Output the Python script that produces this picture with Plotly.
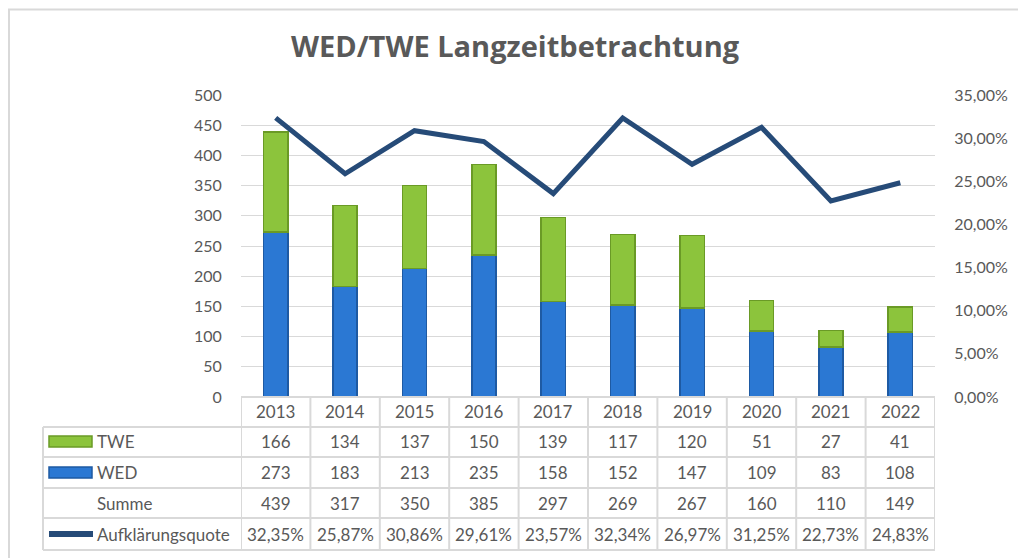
import plotly.graph_objects as go

# ---------------- data ----------------
years = ["2013", "2014", "2015", "2016", "2017", "2018", "2019", "2020", "2021", "2022"]
twe = [166, 134, 137, 150, 139, 117, 120, 51, 27, 41]
wed = [273, 183, 213, 235, 158, 152, 147, 109, 83, 108]
summe = [439, 317, 350, 385, 297, 269, 267, 160, 110, 149]
quote = [32.35, 25.87, 30.86, 29.61, 23.57, 32.34, 26.97, 31.25, 22.73, 24.83]
left_ticks = [0, 50, 100, 150, 200, 250, 300, 350, 400, 450, 500]
right_ticks = [0, 5, 10, 15, 20, 25, 30, 35]
row_labels = ["TWE", "WED", "Summe", "Aufklärungsquote"]

# ---------------- styling ----------------
OFF = 8                      # page body margin
W, H = 1026 - 2 * OFF, 558 - OFF
FONT = "Lato"
TXT = "#595959"
GRID = "#d9d9d9"
BLUE = "#2b78d3"
BLUE_EDGE = "#1e5aa3"
GREEN = "#8cc43c"
GREEN_EDGE = "#6a9a26"
NAVY = "#264b78"


def px_x(px):
    return (px - OFF) / W


def px_y(py):
    return 1 - (py - OFF) / H


plot_l, plot_r, plot_t, plot_b = 241, 935, 95, 397


def de(v):
    return f"{v:.2f}".replace(".", ",") + "%"


fig = go.Figure()
fig.add_trace(go.Bar(x=years, y=wed, name="WED", width=0.35,
                     marker=dict(color=BLUE, line=dict(color=BLUE_EDGE, width=1.5))))
fig.add_trace(go.Bar(x=years, y=twe, name="TWE", width=0.35,
                     marker=dict(color=GREEN, line=dict(color=GREEN_EDGE, width=1.5))))
fig.add_trace(go.Scatter(x=years, y=quote, name="Aufklärungsquote", yaxis="y2",
                         mode="lines", line=dict(color=NAVY, width=5)))

fig.update_layout(
    width=W, height=H, autosize=False,
    margin=dict(l=0, r=0, t=0, b=0, pad=0, autoexpand=False),
    paper_bgcolor="white", plot_bgcolor="white",
    barmode="stack", showlegend=False,
    font=dict(family=FONT, color=TXT, size=16),
    title=dict(text="<b>WED/TWE Langzeitbetrachtung</b>", x=px_x(515), xanchor="center",
               y=px_y(47), yanchor="middle",
               font=dict(family="Open Sans", size=29, color=TXT)),
    xaxis=dict(domain=[px_x(plot_l), px_x(plot_r)], type="category",
               range=[-0.5, 9.5], showticklabels=False, showgrid=False,
               zeroline=False, showline=False, fixedrange=True, automargin=False),
    yaxis=dict(domain=[px_y(plot_b), px_y(plot_t)], range=[0, 500],
               tickvals=left_ticks, ticktext=[str(v) for v in left_ticks],
               showgrid=True, gridcolor=GRID, gridwidth=1, zeroline=False,
               showline=False, ticks="outside", ticklen=15,
               tickcolor="rgba(0,0,0,0)", automargin=False,
               tickfont=dict(size=16, color=TXT)),
    yaxis2=dict(overlaying="y", side="right", range=[0, 35],
                tickvals=right_ticks, ticktext=[de(v) for v in right_ticks],
                showgrid=False, zeroline=False, showline=False, ticks="outside",
                ticklen=15, tickcolor="rgba(0,0,0,0)", automargin=False,
                tickfont=dict(size=16, color=TXT)),
)

shapes = []
# outer chart border
shapes.append(dict(type="rect", xref="paper", yref="paper",
                   x0=px_x(9), x1=px_x(1023), y0=px_y(575), y1=px_y(9.5),
                   line=dict(color=GRID, width=2), layer="below"))

# data table grid
row_lines = [427, 457, 488, 518, 550]
tab_left = 43
shapes.append(dict(type="line", xref="paper", yref="paper",
                   x0=px_x(plot_l), x1=px_x(plot_r), y0=px_y(plot_b), y1=px_y(plot_b),
                   line=dict(color=GRID, width=2)))
for ry in row_lines:
    shapes.append(dict(type="line", xref="paper", yref="paper",
                       x0=px_x(tab_left), x1=px_x(plot_r), y0=px_y(ry), y1=px_y(ry),
                       line=dict(color=GRID, width=2)))
for i in range(len(years) + 1):
    shapes.append(dict(type="line", xref="x", yref="paper",
                       x0=i - 0.5, x1=i - 0.5, y0=px_y(plot_b), y1=px_y(550),
                       line=dict(color=GRID, width=2)))
shapes.append(dict(type="line", xref="paper", yref="paper",
                   x0=px_x(tab_left), x1=px_x(tab_left), y0=px_y(427), y1=px_y(550),
                   line=dict(color=GRID, width=2)))

# legend keys in table
shapes.append(dict(type="rect", xref="paper", yref="paper",
                   x0=px_x(49), x1=px_x(92), y0=px_y(447), y1=px_y(436),
                   fillcolor=GREEN, line=dict(color=GREEN_EDGE, width=1.5)))
shapes.append(dict(type="rect", xref="paper", yref="paper",
                   x0=px_x(49), x1=px_x(92), y0=px_y(478), y1=px_y(467),
                   fillcolor=BLUE, line=dict(color=BLUE_EDGE, width=1.5)))
shapes.append(dict(type="line", xref="paper", yref="paper",
                   x0=px_x(49), x1=px_x(93), y0=px_y(534), y1=px_y(534),
                   line=dict(color=NAVY, width=6)))
fig.update_layout(shapes=shapes)

annotations = []
header_y = 411
row_centers = [441, 472, 503, 534]
row_values = [
    [str(v) for v in twe],
    [str(v) for v in wed],
    [str(v) for v in summe],
    [de(v) for v in quote],
]
for i, yr in enumerate(years):
    annotations.append(dict(x=i, xref="x", y=px_y(header_y), yref="paper",
                            text=yr, showarrow=False, xanchor="center", yanchor="middle",
                            font=dict(size=17, color=TXT, family=FONT)))
    for r, vals in enumerate(row_values):
        annotations.append(dict(x=i, xref="x", y=px_y(row_centers[r]), yref="paper",
                                text=vals[i], showarrow=False, xanchor="center",
                                yanchor="middle",
                                font=dict(size=17, color=TXT, family=FONT)))
for r, lab in enumerate(row_labels):
    annotations.append(dict(x=px_x(95), xref="paper", y=px_y(row_centers[r]), yref="paper",
                            text=lab, showarrow=False, xanchor="left", yanchor="middle",
                            font=dict(size=17, color=TXT, family=FONT)))
fig.update_layout(annotations=annotations)

fig.write_html("out.html")
